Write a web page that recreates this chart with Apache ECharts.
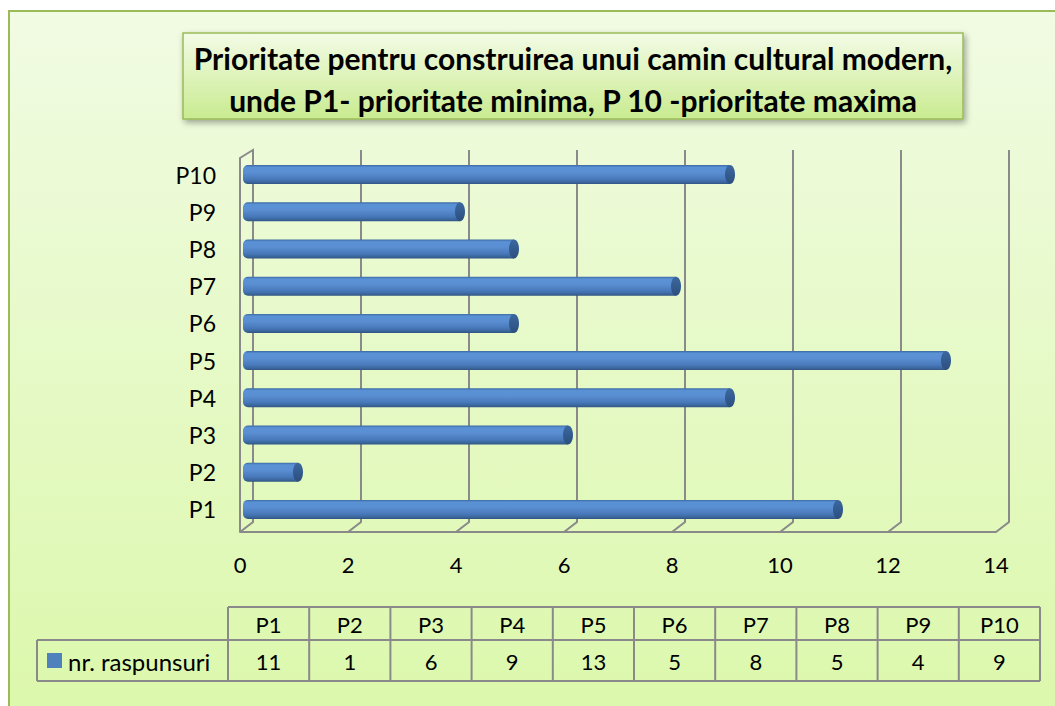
<!DOCTYPE html>
<html>
<head>
<meta charset="utf-8">
<script src="https://cdn.jsdelivr.net/npm/echarts@6/dist/echarts.min.js"></script>
<style>
  html, body { margin: 0; padding: 0; background: #fff; }
  #chart { width: 1055px; height: 706px; }
</style>
</head>
<body>
<div id="chart"></div>
<script>
const categories = ['P1', 'P2', 'P3', 'P4', 'P5', 'P6', 'P7', 'P8', 'P9', 'P10']
const values = [11, 1, 6, 9, 13, 5, 8, 5, 4, 9]
const seriesName = 'nr. raspunsuri'
const xTicks = [0, 2, 4, 6, 8, 10, 12, 14]
const titleText = 'Prioritate pentru construirea unui camin cultural modern,\nunde P1- prioritate minima, P 10 -prioritate maxima'

const FONT = 'Lato, "Noto Sans", sans-serif'
const GRID_COLOR = '#8a8a8a'

const chart = echarts.init(document.getElementById('chart'), null, { renderer: 'svg' })

// 3D-ish back wall lines, one per tick
const renderGridLine = (params, api) => {
  const cs = params.coordSys
  const v = api.value(0)
  const x = api.coord([v, 0])[0]
  const top = cs.y - 6
  const back = cs.y + cs.height - 6
  const front = cs.y + cs.height + 4
  let points = [[x + 13, top], [x + 13, back], [x, front]]
  if (v === xTicks[0]) {
    points = [[x, front], [x, cs.y + 2], [x + 13, top], [x + 13, back], [x, front]]
  }
  return {
    type: 'polyline',
    shape: { points },
    style: { stroke: GRID_COLOR, lineWidth: 2, fill: 'none' }
  }
}

const bodyGradient = new echarts.graphic.LinearGradient(0, 0, 0, 1, [
  { offset: 0, color: '#3d6aa3' },
  { offset: 0.12, color: '#5a92d6' },
  { offset: 0.4, color: '#5a8ed2' },
  { offset: 0.75, color: '#4778b9' },
  { offset: 0.92, color: '#3a6499' },
  { offset: 1, color: '#2f5382' }
])
const capGradient = new echarts.graphic.LinearGradient(0, 0, 0, 1, [
  { offset: 0, color: '#3c68a0' },
  { offset: 1, color: '#2c4f7e' }
])

// cylinder bars
const renderBar = (params, api) => {
  const idx = api.value(1)
  const p0 = api.coord([0, idx])
  const p1 = api.coord([api.value(0), idx])
  const h = 19
  const x0 = p0[0] + 3
  const x1 = p1[0] + 4
  const y = p0[1]
  return {
    type: 'group',
    children: [
      {
        type: 'rect',
        shape: { x: x0, y: y - h / 2, width: x1 - x0, height: h, r: [5, 0, 0, 5] },
        style: { fill: bodyGradient }
      },
      {
        type: 'ellipse',
        shape: { cx: x1, cy: y, rx: 5, ry: h / 2 },
        style: { fill: capGradient }
      }
    ]
  }
}

// data table under the chart
const buildTable = () => {
  const legendX = 37
  const col0 = 228
  const colW = 81.2
  const headTop = 607
  const rowMid = 640
  const rowBottom = 681
  const right = col0 + colW * categories.length
  const line = (x1, y1, x2, y2) => ({
    type: 'line',
    shape: { x1, y1, x2, y2 },
    style: { stroke: GRID_COLOR, lineWidth: 2 },
    z: 5
  })
  const els = [
    line(col0, headTop, right, headTop),
    line(legendX, rowMid, right, rowMid),
    line(legendX, rowBottom, right, rowBottom),
    line(legendX, rowMid, legendX, rowBottom)
  ]
  for (let k = 0; k <= categories.length; k++) {
    const x = col0 + k * colW
    els.push(line(x, headTop, x, rowBottom))
  }
  categories.forEach((c, k) => {
    const cx = col0 + (k + 0.5) * colW
    els.push({
      type: 'text', x: cx, y: (headTop + rowMid) / 2 + 1, z: 5,
      style: { text: c, font: '22px ' + FONT, fill: '#000', align: 'center', verticalAlign: 'middle' }
    })
    els.push({
      type: 'text', x: cx, y: (rowMid + rowBottom) / 2 + 1, z: 5,
      style: { text: String(values[k]), font: '22px ' + FONT, fill: '#000', align: 'center', verticalAlign: 'middle' }
    })
  })
  els.push({
    type: 'rect', z: 5,
    shape: { x: 47, y: 653, width: 15, height: 15 },
    style: { fill: '#4f81bd' }
  })
  els.push({
    type: 'text', x: 68, y: (rowMid + rowBottom) / 2 + 1, z: 5,
    style: { text: seriesName, font: '24px ' + FONT, fill: '#000', align: 'left', verticalAlign: 'middle' }
  })
  return els
}

chart.setOption({
  animation: false,
  graphic: [
    {
      type: 'rect', z: 0,
      shape: { x: 9, y: 11, width: 1070, height: 720 },
      style: {
        fill: new echarts.graphic.LinearGradient(0, 0, 0, 1, [
          { offset: 0, color: '#f1fbe3' },
          { offset: 1, color: '#dbf8aa' }
        ]),
        stroke: '#9bbb59',
        lineWidth: 2
      }
    },
    {
      type: 'rect', z: 1,
      shape: { x: 183, y: 33, width: 780, height: 86 },
      style: {
        fill: new echarts.graphic.LinearGradient(0, 0, 0, 1, [
          { offset: 0, color: '#f3fbe6' },
          { offset: 1, color: '#c9eb90' }
        ]),
        stroke: '#9bbb59',
        lineWidth: 1.5,
        shadowBlur: 6,
        shadowOffsetX: 2,
        shadowOffsetY: 3,
        shadowColor: 'rgba(0,0,0,0.35)'
      }
    },
    {
      type: 'text', z: 2, x: 573, y: 37,
      style: {
        text: titleText,
        font: 'bold 30px ' + FONT,
        lineHeight: 42,
        fill: '#000',
        align: 'center',
        verticalAlign: 'top'
      }
    },
    ...buildTable()
  ],
  grid: {
    left: 240,
    top: 156,
    width: 756,
    height: 372
  },
  xAxis: {
    type: 'value',
    min: 0,
    max: 14,
    interval: 2,
    offset: 4,
    axisLine: { show: true, lineStyle: { color: GRID_COLOR, width: 2 } },
    axisTick: { show: false },
    splitLine: { show: false },
    axisLabel: { color: '#000', fontSize: 22, fontFamily: FONT, margin: 21 }
  },
  yAxis: {
    type: 'category',
    data: categories,
    axisLine: { show: false },
    axisTick: { show: false },
    splitLine: { show: false },
    axisLabel: { color: '#000', fontSize: 23, fontFamily: FONT, margin: 24 }
  },
  series: [
    {
      type: 'custom',
      name: 'grid',
      silent: true,
      renderItem: renderGridLine,
      encode: { x: 0, y: 1 },
      data: xTicks.map(v => [v, 0]),
      z: 1
    },
    {
      type: 'custom',
      name: seriesName,
      renderItem: renderBar,
      encode: { x: 0, y: 1 },
      data: values.map((v, i) => [v, i]),
      z: 3
    }
  ]
})
</script>
</body>
</html>
